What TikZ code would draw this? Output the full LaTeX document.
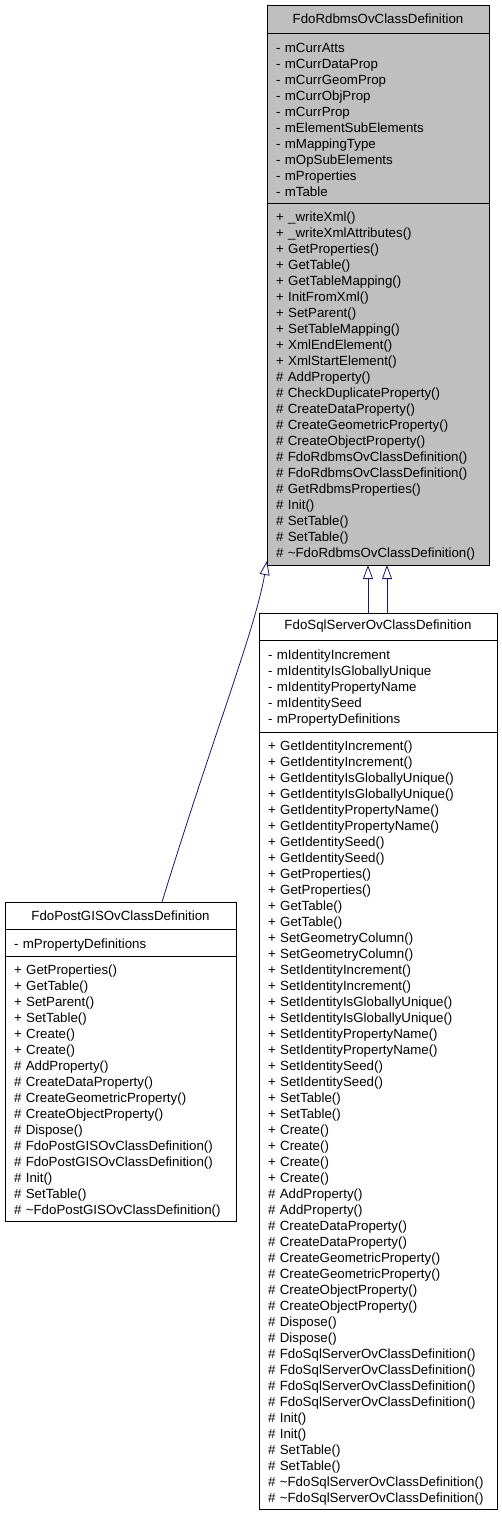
\documentclass[tikz,border=0pt]{standalone}
\usepackage{fontspec}
\setmainfont{Liberation Sans}
\usepackage{tikz}
\usetikzlibrary{positioning,arrows.meta}
\definecolor{edgeblue}{HTML}{191970}
\definecolor{basegray}{HTML}{BFBFBF}
\newcommand{\umlfont}{\fontsize{13.3}{16}\selectfont}
\newcommand{\dtor}{\textasciitilde}

\begin{document}
\begin{tikzpicture}[x=1pt, y=-1pt,
    classtitle/.style={draw, fill=#1, minimum height=27pt, align=center, inner sep=0pt, outer sep=0pt, font=\umlfont, anchor=north},
    members/.style={draw, fill=#1, text width=\memw, align=left, inner xsep=9pt, inner ysep=0pt, outer sep=0pt, font=\umlfont,
        execute at begin node={\rule{0pt}{14pt}}},
    inherit/.style={draw=edgeblue, line width=0.8pt, -{Triangle[open, length=14pt, width=10pt]}},
]
\useasboundingbox (0,0) rectangle (501,1514);

% base class
\def\memw{204pt}
\node[classtitle=basegray, minimum width=222pt, minimum height=28pt] (rdbmstitle) at (378,5) {FdoRdbmsOvClassDefinition};
\node[members=basegray, minimum height=170pt, below=0pt of rdbmstitle] (rdbmsattr) {- mCurrAtts\\- mCurrDataProp\\- mCurrGeomProp\\- mCurrObjProp\\- mCurrProp\\- mElementSubElements\\- mMappingType\\- mOpSubElements\\- mProperties\\- mTable};
\node[members=basegray, minimum height=362pt, below=0pt of rdbmsattr] (rdbmsops) {+ \_writeXml()\\+ \_writeXmlAttributes()\\+ GetProperties()\\+ GetTable()\\+ GetTableMapping()\\+ InitFromXml()\\+ SetParent()\\+ SetTableMapping()\\+ XmlEndElement()\\+ XmlStartElement()\\\# AddProperty()\\\# CheckDuplicateProperty()\\\# CreateDataProperty()\\\# CreateGeometricProperty()\\\# CreateObjectProperty()\\\# FdoRdbmsOvClassDefinition()\\\# FdoRdbmsOvClassDefinition()\\\# GetRdbmsProperties()\\\# Init()\\\# SetTable()\\\# SetTable()\\\# \dtor FdoRdbmsOvClassDefinition()};

% sql server class
\def\memw{220pt}
\node[classtitle=white, minimum width=238pt] (sqltitle) at (378,613) {FdoSqlServerOvClassDefinition};
\node[members=white, minimum height=92pt, below=0pt of sqltitle] (sqlattr) {- mIdentityIncrement\\- mIdentityIsGloballyUnique\\- mIdentityPropertyName\\- mIdentitySeed\\- mPropertyDefinitions};
\node[members=white, minimum height=777pt, below=0pt of sqlattr] (sqlops) {+ GetIdentityIncrement()\\+ GetIdentityIncrement()\\+ GetIdentityIsGloballyUnique()\\+ GetIdentityIsGloballyUnique()\\+ GetIdentityPropertyName()\\+ GetIdentityPropertyName()\\+ GetIdentitySeed()\\+ GetIdentitySeed()\\+ GetProperties()\\+ GetProperties()\\+ GetTable()\\+ GetTable()\\+ SetGeometryColumn()\\+ SetGeometryColumn()\\+ SetIdentityIncrement()\\+ SetIdentityIncrement()\\+ SetIdentityIsGloballyUnique()\\+ SetIdentityIsGloballyUnique()\\+ SetIdentityPropertyName()\\+ SetIdentityPropertyName()\\+ SetIdentitySeed()\\+ SetIdentitySeed()\\+ SetTable()\\+ SetTable()\\+ Create()\\+ Create()\\+ Create()\\+ Create()\\\# AddProperty()\\\# AddProperty()\\\# CreateDataProperty()\\\# CreateDataProperty()\\\# CreateGeometricProperty()\\\# CreateGeometricProperty()\\\# CreateObjectProperty()\\\# CreateObjectProperty()\\\# Dispose()\\\# Dispose()\\\# FdoSqlServerOvClassDefinition()\\\# FdoSqlServerOvClassDefinition()\\\# FdoSqlServerOvClassDefinition()\\\# FdoSqlServerOvClassDefinition()\\\# Init()\\\# Init()\\\# SetTable()\\\# SetTable()\\\# \dtor FdoSqlServerOvClassDefinition()\\\# \dtor FdoSqlServerOvClassDefinition()};

% postgis class
\def\memw{213pt}
\node[classtitle=white, minimum width=231pt] (pgtitle) at (120.5,902) {FdoPostGISOvClassDefinition};
\node[members=white, minimum height=27pt, below=0pt of pgtitle] (pgattr) {- mPropertyDefinitions};
\node[members=white, minimum height=265pt, below=0pt of pgattr] (pgops) {+ GetProperties()\\+ GetTable()\\+ SetParent()\\+ SetTable()\\+ Create()\\+ Create()\\\# AddProperty()\\\# CreateDataProperty()\\\# CreateGeometricProperty()\\\# CreateObjectProperty()\\\# Dispose()\\\# FdoPostGISOvClassDefinition()\\\# FdoPostGISOvClassDefinition()\\\# Init()\\\# SetTable()\\\# \dtor FdoPostGISOvClassDefinition()};

\draw[inherit] ([xshift=-10pt]sqltitle.north) -- ([xshift=-10pt]rdbmsops.south);
\draw[inherit] ([xshift=9pt]sqltitle.north) -- ([xshift=9pt]rdbmsops.south);
\draw[inherit] ([xshift=41.5pt]pgtitle.north) .. controls (215,730) and (255,630) .. ([yshift=4pt]rdbmsops.south west);
\end{tikzpicture}
\end{document}
